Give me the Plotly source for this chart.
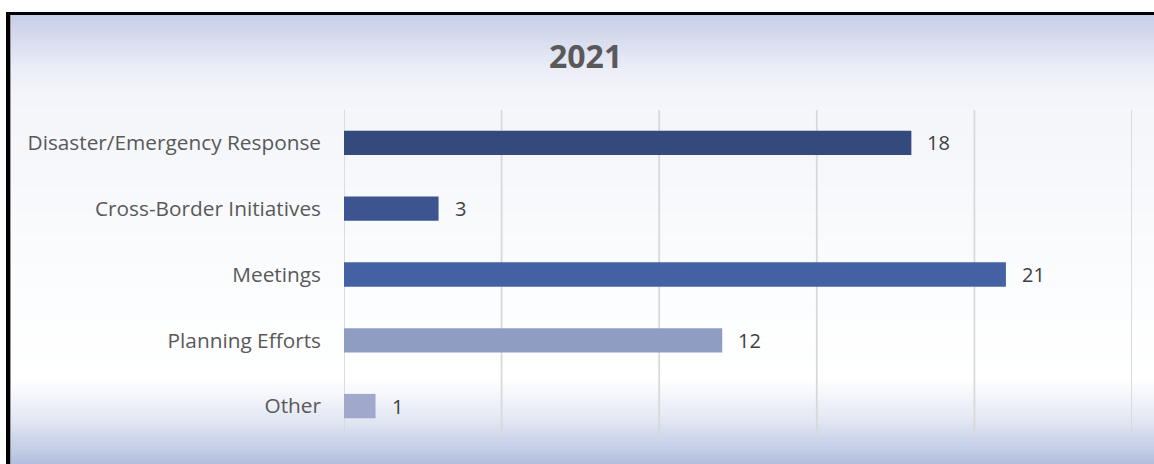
import plotly.graph_objects as go

categories = ["Disaster/Emergency Response", "Cross-Border Initiatives", "Meetings", "Planning Efforts", "Other"]
values = [18, 3, 21, 12, 1]
bar_colors = ["#344a7c", "#3c5590", "#4461a3", "#909dc2", "#a0a8cc"]
title_text = "2021"
x_ticks = [0, 5, 10, 15, 20, 25]

W, H = 1154, 464
SX0, SX1, SY0, SY1 = 344, 1132, 110, 439
L, R = SX0, W - SX1
T, B = SY0, H - SY1
PW, PH = W - L - R, H - T - B

def px_x(sx):
    return (sx - SX0) / PW

def px_y(sy):
    return (SY1 - sy) / PH

fig = go.Figure()
fig.add_trace(go.Bar(
    y=categories, x=values, orientation="h",
    marker=dict(color=bar_colors, line=dict(width=0)),
    width=0.37, hoverinfo="x+y",
))

shapes = []
def lerp(c1, c2, t):
    return tuple(round(a + (b - a) * t) for a, b in zip(c1, c2))

# white page margin outside the framed chart (top and left)
shapes.append(dict(type="rect", xref="paper", yref="paper", layer="below",
                   x0=px_x(-50), x1=px_x(1200), y0=px_y(12), y1=px_y(-50),
                   fillcolor="white", line=dict(width=0)))
shapes.append(dict(type="rect", xref="paper", yref="paper", layer="below",
                   x0=px_x(-50), x1=px_x(6), y0=px_y(520), y1=px_y(-50),
                   fillcolor="white", line=dict(width=0)))

stops = [(15, (198, 205, 231)), (40, (216, 220, 238)), (70, (236, 238, 247)), (95, (244, 245, 250)),
         (200, (248, 249, 252)), (300, (252, 253, 254)), (380, (255, 255, 255)),
         (420, (226, 231, 243)), (464, (178, 191, 223))]
for (y0, c0), (y1, c1) in zip(stops[:-1], stops[1:]):
    n = max(1, int((y1 - y0) // 3))
    for i in range(n):
        ya = y0 + (y1 - y0) * i / n
        yb = y0 + (y1 - y0) * (i + 1) / n
        c = lerp(c0, c1, (i + 0.5) / n)
        shapes.append(dict(type="rect", xref="paper", yref="paper", layer="below",
                           x0=px_x(6), x1=px_x(1200), y0=px_y(yb + 0.5), y1=px_y(ya),
                           fillcolor="rgb(%d,%d,%d)" % c, line=dict(width=0)))
# vertical gridlines (including the 0 and 25 edges)
for t in x_ticks:
    shapes.append(dict(type="line", xref="x", yref="paper", layer="below",
                       x0=t, x1=t, y0=0, y1=1, line=dict(color="#d9d9d9", width=1.8)))
# border top and left
shapes.append(dict(type="rect", xref="paper", yref="paper", layer="above",
                   x0=px_x(6), x1=px_x(1200), y0=px_y(15), y1=px_y(12),
                   fillcolor="black", line=dict(width=0)))
shapes.append(dict(type="rect", xref="paper", yref="paper", layer="above",
                   x0=px_x(6), x1=px_x(10), y0=px_y(520), y1=px_y(12),
                   fillcolor="black", line=dict(width=0)))
shapes.append(dict(type="rect", xref="paper", yref="paper", layer="above",
                   x0=px_x(10), x1=px_x(11), y0=px_y(520), y1=px_y(15),
                   fillcolor="#9a9a9a", line=dict(width=0)))

annotations = []
for c, v in zip(categories, values):
    annotations.append(dict(x=v, y=c, xref="x", yref="y", text=str(v), showarrow=False,
                            xanchor="left", xshift=14,
                            font=dict(family="Open Sans, sans-serif", size=20, color="#404040")))
annotations.append(dict(x=px_x(585), y=px_y(56), xref="paper", yref="paper", text="<b>%s</b>" % title_text,
                        showarrow=False, xanchor="center", yanchor="middle",
                        font=dict(family="Open Sans, sans-serif", size=32, color="#595959")))

fig.update_layout(
    width=W, height=H,
    margin=dict(l=L, r=R, t=T, b=B, pad=0),
    paper_bgcolor="#f6f7fb", plot_bgcolor="rgba(0,0,0,0)",
    shapes=shapes, annotations=annotations,
    showlegend=False,
    xaxis=dict(range=[0, 25], showticklabels=False, showgrid=False,
               zeroline=False, showline=False, fixedrange=True),
    yaxis=dict(autorange="reversed", showgrid=False, zeroline=False, showline=False,
               ticks="", ticklabelstandoff=22, fixedrange=True,
               tickfont=dict(family="Open Sans, sans-serif", size=20.8, color="#595959")),
)

fig.write_html("out.html", config={"displayModeBar": False},
               post_script="document.body.style.margin='0';document.body.style.overflow='hidden';"
                           "document.documentElement.style.overflow='hidden';")
